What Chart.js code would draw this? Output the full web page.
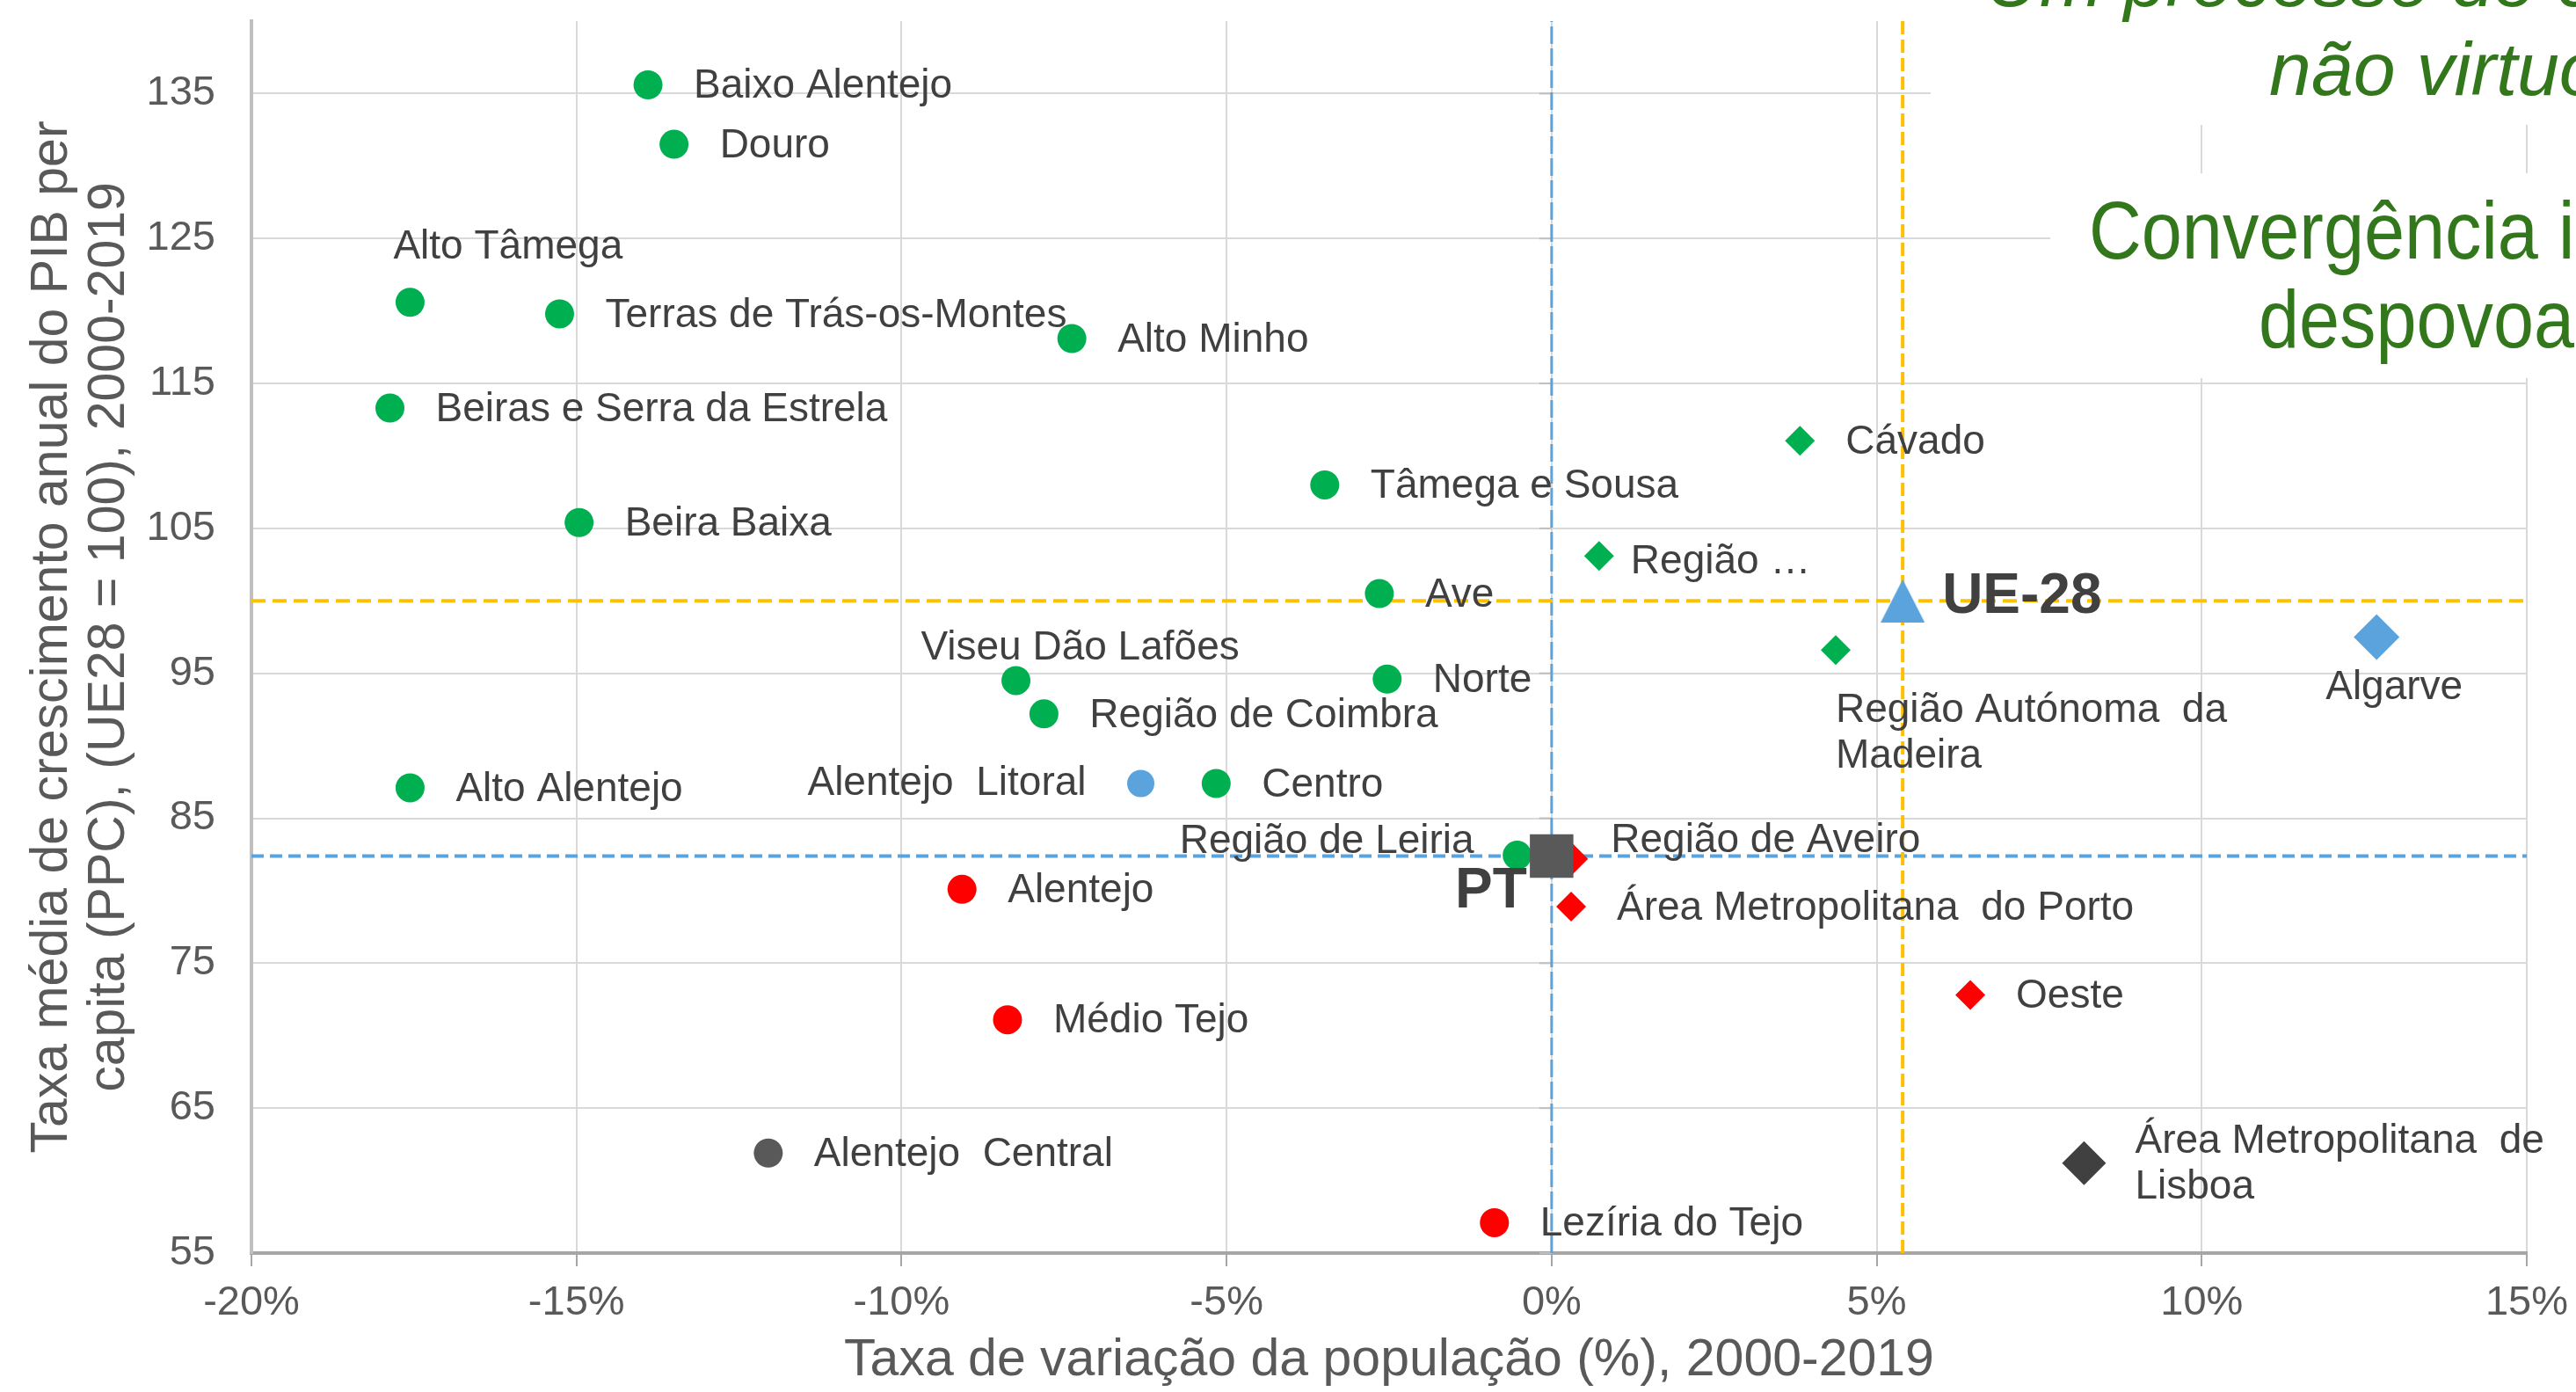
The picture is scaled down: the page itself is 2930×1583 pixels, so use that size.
<!DOCTYPE html>
<html>
<head>
<meta charset="utf-8">
<script src="https://cdn.jsdelivr.net/npm/chart.js@4"></script>
<style>
  html, body { margin: 0; padding: 0; background: #fff; }
  #wrap { width: 2930px; height: 1583px; }
</style>
</head>
<body>
<div id="wrap"><canvas id="chart"></canvas></div>
<script>
// --- data ---
const regions = [
  'Baixo Alentejo', 'Douro', 'Alto Tâmega', 'Terras de Trás-os-Montes', 'Alto Minho',
  'Beiras e Serra da Estrela', 'Beira Baixa', 'Tâmega e Sousa', 'Ave', 'Viseu Dão Lafões',
  'Norte', 'Região de Coimbra', 'Centro', 'Alto Alentejo', 'Região de Leiria',
  'Cávado', 'Região …', 'Região Autónoma da Madeira',
  'Alentejo Litoral', 'Algarve',
  'Alentejo', 'Médio Tejo', 'Lezíria do Tejo',
  'Região de Aveiro', 'Área Metropolitana do Porto', 'Oeste',
  'Alentejo Central', 'Área Metropolitana de Lisboa'
];
// population change 2000-2019 (%)
const popChange = [
  -13.9, -13.5, -17.56, -15.26, -7.38,
  -17.87, -14.96, -3.49, -2.65, -8.24,
  -2.53, -7.81, -5.16, -17.56, -0.53,
  3.82, 0.73, 4.37,
  -6.32, 12.69,
  -9.07, -8.37, -0.88,
  0.33, 0.30, 6.44,
  -12.05, 8.19
];
// GDP per capita growth index (UE28 = 100)
const gdpIndex = [
  135.6, 131.5, 120.6, 119.8, 118.1,
  113.3, 105.4, 108.0, 100.5, 94.5,
  94.6, 92.2, 87.4, 87.1, 82.45,
  111.05, 103.1, 96.6,
  87.4, 97.5,
  80.1, 71.1, 57.1,
  82.2, 78.9, 72.8,
  61.9, 61.2
];
const groupOf = [
  'gCircle', 'gCircle', 'gCircle', 'gCircle', 'gCircle',
  'gCircle', 'gCircle', 'gCircle', 'gCircle', 'gCircle',
  'gCircle', 'gCircle', 'gCircle', 'gCircle', 'gCircle',
  'gDiamond', 'gDiamond', 'gDiamond',
  'bCircle', 'bDiamond',
  'rCircle', 'rCircle', 'rCircle',
  'rDiamond', 'rDiamond', 'rDiamond',
  'kCircle', 'kDiamond'
];
// reference points: Portugal and UE-28
const refNames = ['PT', 'UE-28'];
const refPop = [0, 5.4];
const refGdp = [82.4, 100];

const xTicks = [-20, -15, -10, -5, 0, 5, 10, 15];
const yTicks = [55, 65, 75, 85, 95, 105, 115, 125, 135];
const xMin = -20, xMax = 15, yMin = 55, yMax = 140;

// --- styles ---
const BLUE = '#5BA3DD';
const groupStyle = {
  gCircle:  { shape: 'circle',  color: '#00B050', r: 16.5 },
  gDiamond: { shape: 'rectRot', color: '#00B050', r: 17 },
  bCircle:  { shape: 'circle',  color: BLUE, r: 15.5 },
  bDiamond: { shape: 'rectRot', color: BLUE, r: 26 },
  rCircle:  { shape: 'circle',  color: '#FF0000', r: 16.5 },
  rDiamond: { shape: 'rectRot', color: '#FF0000', r: 17 },
  kCircle:  { shape: 'circle',  color: '#595959', r: 16.5 },
  kDiamond: { shape: 'rectRot', color: '#404040', r: 25 }
};

// centred triangle marker for UE-28
function triangleMarker(w, h, color) {
  const c = document.createElement('canvas');
  c.width = w; c.height = h;
  const g = c.getContext('2d');
  g.fillStyle = color;
  g.beginPath();
  g.moveTo(w / 2, 0);
  g.lineTo(w, h);
  g.lineTo(0, h);
  g.closePath();
  g.fill();
  return c;
}
const refStyle = [
  { shape: 'rect', color: '#595959', r: 35 },
  { shape: triangleMarker(50, 49, BLUE), color: BLUE, r: 25 }
];

// label placement relative to the marker
const defaultPlace = { align: 'left', dx: 52, dy: 2 };
const labelPlace = {
  'Alto Tâmega': { dx: -19, dy: -62 },
  'Algarve': { align: 'center', dx: 20, dy: 58 },
  'Região Autónoma da Madeira': { dx: 0, dy: 69, lines: ['Região Autónoma  da', 'Madeira'] },
  'Viseu Dão Lafões': { align: 'center', dx: 73, dy: -37 },
  'Alentejo Litoral': { align: 'right', dx: -62, dy: 0, lines: ['Alentejo  Litoral'] },
  'Alentejo Central': { lines: ['Alentejo  Central'] },
  'Região de Leiria': { align: 'right', dx: -49, dy: -15 },
  'Região de Aveiro': { dx: 43, dy: -20 },
  'Área Metropolitana do Porto': { lines: ['Área Metropolitana  do Porto'] },
  'Área Metropolitana de Lisboa': { dx: 58, dy: -24, lines: ['Área Metropolitana  de', 'Lisboa'] },
  'Região …': { dx: 36, dy: 7 },
  'PT': { align: 'right', dx: -28, dy: 41, bold: true },
  'UE-28': { dx: 45, dy: -4, bold: true }
};

Chart.defaults.font.family = "'Liberation Sans', Arial, sans-serif";

// build datasets from the arrays
const datasets = [];
Object.keys(groupStyle).forEach(g => {
  const st = groupStyle[g];
  const pts = [], names = [];
  regions.forEach((n, i) => {
    if (groupOf[i] === g) {
      pts.push({ x: popChange[i], y: gdpIndex[i] });
      names.push(n);
    }
  });
  datasets.push({
    data: pts, names: names, order: 1,
    pointStyle: st.shape, pointRadius: st.r,
    backgroundColor: st.color, borderWidth: 0
  });
});
refNames.forEach((n, i) => {
  datasets.push({
    data: [{ x: refPop[i], y: refGdp[i] }], names: [n], order: 0,
    pointStyle: refStyle[i].shape, pointRadius: refStyle[i].r,
    backgroundColor: refStyle[i].color, borderWidth: 0
  });
});
// reference lines (PT in blue, UE-28 in yellow)
const lineSet = (pts, color, width, dash) => ({
  data: pts, showLine: true, pointRadius: 0, order: 5,
  borderColor: color, borderWidth: width, borderDash: dash
});
datasets.push(lineSet([{ x: xMin, y: refGdp[1] }, { x: xMax, y: refGdp[1] }], '#FFC000', 4, [16, 8]));
datasets.push(lineSet([{ x: refPop[1], y: yMin }, { x: refPop[1], y: yMax }], '#FFC000', 4, [15, 6]));
datasets.push(lineSet([{ x: xMin, y: refGdp[0] }, { x: xMax, y: refGdp[0] }], BLUE, 4, [14, 7]));
datasets.push(lineSet([{ x: refPop[0], y: yMin }, { x: refPop[0], y: yMax }], BLUE, 3, [20, 5]));

const pointLabels = {
  id: 'pointLabels',
  beforeDatasetsDraw(chart) {
    // small tick marks on the 0% line
    const ctx = chart.ctx, xs = chart.scales.x, ys = chart.scales.y;
    const x0 = xs.getPixelForValue(0);
    ctx.save();
    ctx.strokeStyle = '#BFBFBF';
    ctx.lineWidth = 2;
    yTicks.forEach(v => {
      const y = ys.getPixelForValue(v);
      ctx.beginPath();
      ctx.moveTo(x0 - 14, y);
      ctx.lineTo(x0, y);
      ctx.stroke();
    });
    ctx.restore();
  },
  afterDatasetsDraw(chart) {
    const ctx = chart.ctx;
    ctx.save();
    ctx.textBaseline = 'middle';
    chart.data.datasets.forEach((ds, i) => {
      if (!ds.names) return;
      const meta = chart.getDatasetMeta(i);
      meta.data.forEach((pt, j) => {
        const name = ds.names[j];
        const p = Object.assign({}, defaultPlace, labelPlace[name] || {});
        const lines = p.lines || [name];
        ctx.font = p.bold ? "bold 64px 'Liberation Sans', Arial" : "46px 'Liberation Sans', Arial";
        ctx.fillStyle = '#404040';
        ctx.textAlign = p.align;
        lines.forEach((t, k) => {
          ctx.fillText(t, pt.x + p.dx, pt.y + p.dy + k * 52);
        });
      });
    });
    ctx.restore();
  },
  afterDraw(chart) {
    // slide text boxes overlapping the chart (top right)
    const ctx = chart.ctx;
    ctx.save();
    ctx.fillStyle = '#ffffff';
    ctx.fillRect(2196, 0, 734, 142);
    ctx.fillRect(2332, 197, 598, 233);
    ctx.fillStyle = '#33771C';
    const txt = (s, x, y, italic) => {
      ctx.save();
      ctx.translate(x, y);
      if (!italic) ctx.scale(0.9, 1);
      ctx.font = italic ? "italic 86px 'Liberation Sans', Arial" : "92px 'Liberation Sans', Arial";
      ctx.textAlign = 'left';
      ctx.textBaseline = 'alphabetic';
      ctx.fillText(s, 0, 0);
      ctx.restore();
    };
    txt('Um processo de convergência', 2258, 7, true);
    txt('não virtuoso', 2581, 108, true);
    txt('Convergência induzida', 2376, 294, false);
    txt('despovoamento', 2569, 395, false);
    ctx.restore();
  }
};

const ctx = document.getElementById('chart').getContext('2d');
new Chart(ctx, {
  type: 'scatter',
  data: { datasets: datasets },
  options: {
    responsive: true,
    maintainAspectRatio: false,
    devicePixelRatio: 1,
    animation: false,
    events: [],
    layout: { autoPadding: false, padding: { top: 24, right: 56, left: 0, bottom: 0 } },
    plugins: { legend: { display: false }, tooltip: { enabled: false } },
    scales: {
      x: {
        type: 'linear', min: xMin, max: xMax,
        afterBuildTicks: s => { s.ticks = xTicks.map(v => ({ value: v })); },
        afterFit: s => { s.height = 158; s.paddingLeft = 0; s.paddingRight = 0; },
        grid: { color: '#D9D9D9', lineWidth: 2, tickLength: 15, tickColor: '#A6A6A6', tickWidth: 2 },
        border: { color: '#A6A6A6', width: 4 },
        ticks: {
          padding: 14, color: '#595959', font: { size: 47 },
          maxRotation: 0, autoSkip: false,
          callback: v => v + '%'
        },
        title: {
          display: true, text: 'Taxa de variação da população (%), 2000-2019',
          color: '#595959', font: { size: 59 }, padding: { top: 0, bottom: 0 }
        }
      },
      y: {
        type: 'linear', min: yMin, max: yMax,
        afterBuildTicks: s => { s.ticks = yTicks.map(v => ({ value: v })); },
        afterFit: s => { s.width = 286; s.paddingTop = 0; s.paddingBottom = 0; },
        grid: { color: '#D9D9D9', lineWidth: 2, drawTicks: false },
        border: { color: '#BFBFBF', width: 4 },
        ticks: { padding: 41, color: '#595959', font: { size: 47, lineHeight: 0.8 }, autoSkip: false },
        title: {
          display: true,
          text: ['Taxa média de crescimento anual do PIB per', 'capita (PPC), (UE28 = 100), 2000-2019'],
          color: '#595959', font: { size: 59, lineHeight: 1.1 }, padding: { top: 27, bottom: 0 }
        }
      }
    }
  },
  plugins: [pointLabels]
});
</script>
</body>
</html>
